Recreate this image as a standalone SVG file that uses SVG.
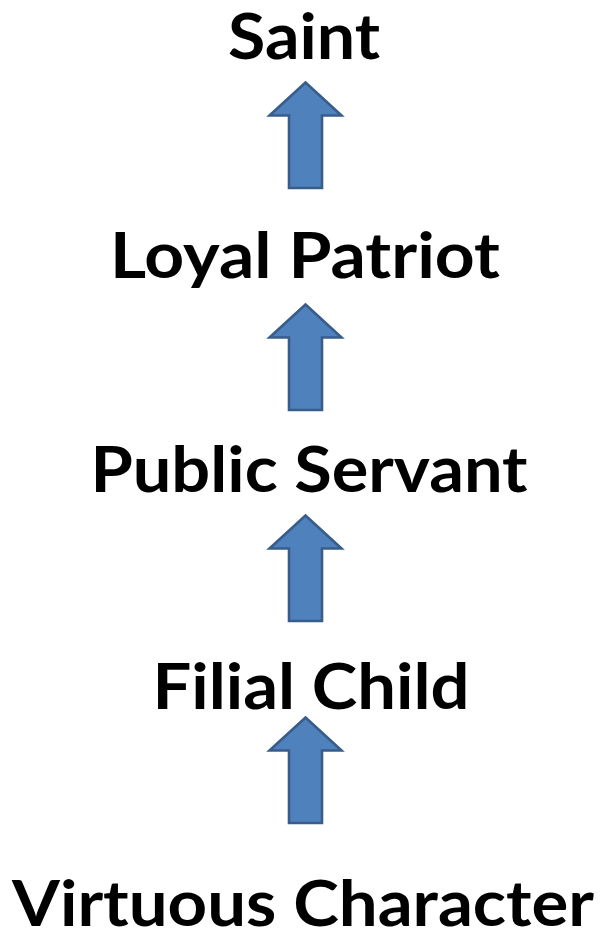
<svg xmlns="http://www.w3.org/2000/svg" xmlns:xlink="http://www.w3.org/1999/xlink" width="602" height="933" viewBox="0 0 602 933">
<style>
.lbl{font-family:Lato,"Open Sans","Liberation Sans",sans-serif;font-weight:bold;font-size:64px;fill:#000;text-anchor:middle}
.arr{fill:#4F81BD;stroke:#385D8A;stroke-width:2.6;stroke-linejoin:miter}
</style>
<defs>
<path id="arrow" class="arr" d="M0,1.5 L36,34.5 L16.5,34.5 L16.5,107 L-16.5,107 L-16.5,34.5 L-36,34.5 Z"/>
</defs>
<rect width="602" height="933" fill="#fff"/>
<g id="connectors">
<use xlink:href="#arrow" transform="translate(305.5,81)"/>
<use xlink:href="#arrow" transform="translate(305.5,303)"/>
<use xlink:href="#arrow" transform="translate(305.5,514)"/>
<use xlink:href="#arrow" transform="translate(305.5,716)"/>
</g>
<g id="saint"><text class="lbl" x="304" y="59" textLength="152" lengthAdjust="spacingAndGlyphs">Saint</text></g>
<g id="loyal-patriot"><text class="lbl" x="305" y="278" textLength="390" lengthAdjust="spacingAndGlyphs">Loyal Patriot</text></g>
<g id="public-servant"><text class="lbl" x="309" y="492" textLength="437" lengthAdjust="spacingAndGlyphs">Public Servant</text></g>
<g id="filial-child"><text class="lbl" x="311" y="709" textLength="317" lengthAdjust="spacingAndGlyphs">Filial Child</text></g>
<g id="virtuous-character"><text class="lbl" x="303" y="926" textLength="582" lengthAdjust="spacingAndGlyphs">Virtuous Character</text></g>
</svg>
